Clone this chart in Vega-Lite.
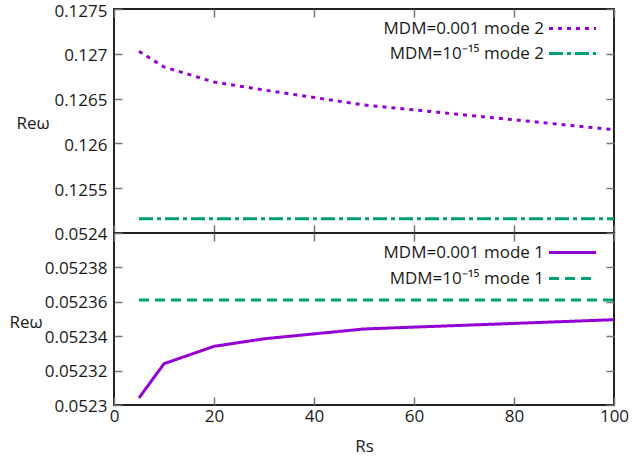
{
  "$schema": "https://vega.github.io/schema/vega-lite/v6.json",
  "padding": {"left": 8, "top": 1, "right": 5, "bottom": 5},
  "bounds": "flush",
  "spacing": 0,
  "datasets": {
    "mode2": [
      {"Rs": 5, "value": 0.127028, "series": "MDM=0.001 mode 2"},
      {"Rs": 10, "value": 0.126853, "series": "MDM=0.001 mode 2"},
      {"Rs": 20, "value": 0.126685, "series": "MDM=0.001 mode 2"},
      {"Rs": 30, "value": 0.126596, "series": "MDM=0.001 mode 2"},
      {"Rs": 50, "value": 0.126429, "series": "MDM=0.001 mode 2"},
      {"Rs": 100, "value": 0.126153, "series": "MDM=0.001 mode 2"},
      {"Rs": 5, "value": 0.12516, "series": "MDM=10⁻¹⁵ mode 2"},
      {"Rs": 10, "value": 0.12516, "series": "MDM=10⁻¹⁵ mode 2"},
      {"Rs": 20, "value": 0.12516, "series": "MDM=10⁻¹⁵ mode 2"},
      {"Rs": 30, "value": 0.12516, "series": "MDM=10⁻¹⁵ mode 2"},
      {"Rs": 50, "value": 0.12516, "series": "MDM=10⁻¹⁵ mode 2"},
      {"Rs": 100, "value": 0.12516, "series": "MDM=10⁻¹⁵ mode 2"}
    ],
    "mode1": [
      {"Rs": 5, "value": 0.0523041, "series": "MDM=0.001 mode 1"},
      {"Rs": 10, "value": 0.052324, "series": "MDM=0.001 mode 1"},
      {"Rs": 20, "value": 0.0523341, "series": "MDM=0.001 mode 1"},
      {"Rs": 30, "value": 0.0523385, "series": "MDM=0.001 mode 1"},
      {"Rs": 50, "value": 0.0523442, "series": "MDM=0.001 mode 1"},
      {"Rs": 100, "value": 0.0523496, "series": "MDM=0.001 mode 1"},
      {"Rs": 5, "value": 0.052361, "series": "MDM=10⁻¹⁵ mode 1"},
      {"Rs": 10, "value": 0.052361, "series": "MDM=10⁻¹⁵ mode 1"},
      {"Rs": 20, "value": 0.052361, "series": "MDM=10⁻¹⁵ mode 1"},
      {"Rs": 30, "value": 0.052361, "series": "MDM=10⁻¹⁵ mode 1"},
      {"Rs": 50, "value": 0.052361, "series": "MDM=10⁻¹⁵ mode 1"},
      {"Rs": 100, "value": 0.052361, "series": "MDM=10⁻¹⁵ mode 1"}
    ]
  },
  "vconcat": [
    {
      "width": 500,
      "height": 224,
      "data": {"name": "mode2"},
      "resolve": {"axis": {"x": "independent", "y": "independent"}},
      "layer": [
        {
          "mark": {"type": "line", "strokeWidth": 3, "strokeCap": "butt"},
          "encoding": {
            "x": {
              "field": "Rs", "type": "quantitative",
              "scale": {"domain": [0, 100], "nice": false},
              "axis": {"orient": "bottom", "values": [0, 20, 40, 60, 80, 100], "labels": false, "title": null}
            },
            "y": {
              "field": "value", "type": "quantitative",
              "scale": {"domain": [0.125, 0.1275], "nice": false, "zero": false},
              "axis": {
                "orient": "left", "values": [0.1255, 0.126, 0.1265, 0.127, 0.1275], "format": "~g", "labelOffset": 2,
                "title": "Reω", "titleAngle": 0, "titleAlign": "left", "titleBaseline": "middle",
                "titleX": -98, "titleY": 114
              }
            },
            "color": {
              "field": "series", "type": "nominal",
              "scale": {"domain": ["MDM=0.001 mode 2", "MDM=10⁻¹⁵ mode 2"], "range": ["#9400D3", "#009E73"]},
              "legend": {
                "orient": "top-right", "title": null, "offset": 11, "padding": 0,
                "symbolType": "M-5,0H5", "symbolSize": 88.4, "symbolStrokeWidth": 3,
                "labelAlign": "right", "labelOffset": -37, "labelFontSize": 17, "rowPadding": 7
              }
            },
            "strokeDash": {
              "field": "series", "type": "nominal",
              "scale": {"domain": ["MDM=0.001 mode 2", "MDM=10⁻¹⁵ mode 2"], "range": [[4, 5], [14, 4, 4, 4]]},
              "legend": null
            }
          }
        },
        {
          "mark": {"type": "point", "opacity": 0, "size": 0},
          "encoding": {
            "x": {"field": "Rs", "type": "quantitative", "axis": {"orient": "top", "values": [0, 20, 40, 60, 80, 100], "labels": false, "title": null}},
            "y": {"field": "value", "type": "quantitative", "axis": {"orient": "right", "values": [0.1255, 0.126, 0.1265, 0.127, 0.1275], "labels": false, "title": null}}
          }
        }
      ]
    },
    {
      "width": 500,
      "height": 172,
      "data": {"name": "mode1"},
      "resolve": {"axis": {"x": "independent", "y": "independent"}},
      "layer": [
        {
          "mark": {"type": "line", "strokeWidth": 3, "strokeCap": "butt"},
          "encoding": {
            "x": {
              "field": "Rs", "type": "quantitative",
              "scale": {"domain": [0, 100], "nice": false},
              "axis": {"orient": "bottom", "values": [0, 20, 40, 60, 80, 100], "labelFlush": false, "labelPadding": 11, "title": "Rs", "titlePadding": 14}
            },
            "y": {
              "field": "value", "type": "quantitative",
              "scale": {"domain": [0.0523, 0.0524], "nice": false, "zero": false},
              "axis": {
                "orient": "left", "values": [0.0523, 0.05232, 0.05234, 0.05236, 0.05238, 0.0524], "format": "~g", "labelOffset": 1,
                "title": "Reω", "titleAngle": 0, "titleAlign": "left", "titleBaseline": "middle",
                "titleX": -105, "titleY": 89
              }
            },
            "color": {
              "field": "series", "type": "nominal",
              "scale": {"domain": ["MDM=0.001 mode 1", "MDM=10⁻¹⁵ mode 1"], "range": ["#9400D3", "#009E73"]},
              "legend": {
                "orient": "top-right", "title": null, "offset": 11, "padding": 0,
                "symbolType": "M-5,0H5", "symbolSize": 88.4, "symbolStrokeWidth": 3,
                "labelAlign": "right", "labelOffset": -37, "labelFontSize": 17, "rowPadding": 8
              }
            },
            "strokeDash": {
              "field": "series", "type": "nominal",
              "scale": {"domain": ["MDM=0.001 mode 1", "MDM=10⁻¹⁵ mode 1"], "range": [[1, 0], [10, 6]]},
              "legend": null
            }
          }
        },
        {
          "mark": {"type": "point", "opacity": 0, "size": 0},
          "encoding": {
            "x": {"field": "Rs", "type": "quantitative", "axis": {"orient": "top", "values": [0, 20, 40, 60, 80, 100], "labels": false, "title": null}},
            "y": {"field": "value", "type": "quantitative", "axis": {"orient": "right", "values": [0.0523, 0.05232, 0.05234, 0.05236, 0.05238, 0.0524], "labels": false, "title": null}}
          }
        }
      ]
    }
  ],
  "resolve": {"scale": {"color": "independent", "strokeDash": "independent"}},
  "config": {
    "font": "Open Sans",
    "view": {"stroke": "#222", "strokeWidth": 2},
    "axis": {
      "domain": false, "grid": false,
      "tickSize": -8, "tickColor": "#777", "tickWidth": 1.5,
      "labelFont": "Open Sans", "labelFontSize": 17, "labelColor": "#1a1a1a", "labelPadding": 15,
      "titleFont": "Open Sans", "titleFontSize": 17, "titleFontWeight": "normal", "titleColor": "#1a1a1a"
    },
    "legend": {"labelFont": "Open Sans", "labelColor": "#1a1a1a", "labelLimit": 300}
  }
}
